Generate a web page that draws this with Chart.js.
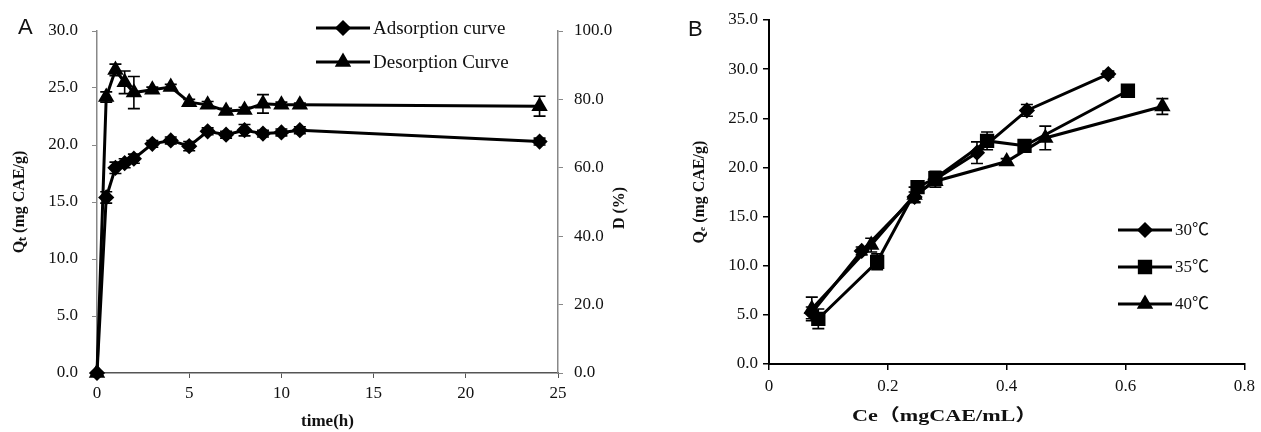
<!DOCTYPE html>
<html>
<head>
<meta charset="utf-8">
<style>
  body { margin: 0; background: #fff; width: 1261px; height: 432px; position: relative; overflow: hidden; }
  .box { position: absolute; top: 0; height: 432px; }
  .lbl { position: absolute; font-family: 'Liberation Sans', Arial, sans-serif; font-size: 22px; color: #111; }
  #ceTitle { position: absolute; left: 852px; top: 401px; font-family: 'Liberation Serif', 'Noto Sans CJK SC', serif; font-weight: bold; font-size: 17px; color: #111; white-space: nowrap; transform: scaleX(1.3); transform-origin: left center; }
</style>
</head>
<body>
<div class="box" style="left:0;width:640px"><canvas id="chartA"></canvas></div>
<div class="box" style="left:640px;width:621px"><canvas id="chartB"></canvas></div>
<div class="lbl" style="left:18px;top:14px">A</div>
<div class="lbl" style="left:688px;top:16px">B</div>
<div id="ceTitle">Ce（mgCAE/mL）</div>
<script src="https://cdn.jsdelivr.net/npm/chart.js@4.4.0/dist/chart.umd.min.js"></script>
<script>
// panel A: adsorption / desorption kinetics
const timeH = [0, 0.5, 1, 1.5, 2, 3, 4, 5, 6, 7, 8, 9, 10, 11, 24];
const adsorptionQt = [0, 15.4, 18.0, 18.4, 18.8, 20.1, 20.4, 19.9, 21.2, 20.9, 21.3, 21.0, 21.1, 21.3, 20.3];
const adsorptionErr = [0, 0.5, 0.5, 0.4, 0.4, 0.3, 0.3, 0.4, 0.3, 0.3, 0.5, 0.3, 0.3, 0.3, 0.3];
const desorptionD = [0, 80.7, 88.6, 85.0, 82.0, 82.8, 83.6, 79.2, 78.4, 76.6, 76.9, 78.7, 78.4, 78.4, 78.0];
const desorptionErr = [0, 1.5, 1.7, 3.3, 4.7, 0.8, 0.8, 0.8, 1.0, 0.8, 0.8, 2.7, 0.8, 0.5, 2.9];

// panel B: isotherms at three temperatures
const ce30 = [0.072, 0.156, 0.245, 0.28, 0.35, 0.434, 0.571];
const qe30 = [5.2, 11.5, 17.0, 18.8, 21.5, 25.8, 29.5];
const err30 = [0.6, 0.4, 0.5, 0.5, 1.1, 0.6, 0.3];
const ce35 = [0.083, 0.182, 0.25, 0.28, 0.367, 0.43, 0.604];
const qe35 = [4.6, 10.4, 18.0, 18.9, 22.7, 22.2, 27.8];
const err35 = [1.0, 0.8, 0.6, 0.7, 0.9, 0.5, 0.3];
const ce40 = [0.072, 0.172, 0.245, 0.28, 0.40, 0.465, 0.662];
const qe40 = [5.6, 12.1, 17.2, 18.6, 20.6, 23.0, 26.2];
const err40 = [1.2, 0.7, 0.8, 0.6, 0.3, 1.2, 0.8];

const pts = (xs, ys) => xs.map((x, i) => ({x: x, y: ys[i]}));
const serif = 'Liberation Serif';

const errorBars = {
  id: 'errorBars',
  afterDatasetsDraw(chart) {
    const ctx = chart.ctx;
    chart.data.datasets.forEach((ds, i) => {
      if (!ds.errors) return;
      const meta = chart.getDatasetMeta(i);
      const xs = chart.scales[meta.xAxisID], ys = chart.scales[meta.yAxisID];
      ctx.save();
      ctx.strokeStyle = '#000';
      ctx.lineWidth = 1.6;
      ds.data.forEach((p, j) => {
        const e = ds.errors[j];
        if (!e) return;
        const x = xs.getPixelForValue(p.x);
        const a = ys.getPixelForValue(p.y - e), b = ys.getPixelForValue(p.y + e);
        ctx.beginPath();
        ctx.moveTo(x, a); ctx.lineTo(x, b);
        ctx.moveTo(x - 6, a); ctx.lineTo(x + 6, a);
        ctx.moveTo(x - 6, b); ctx.lineTo(x + 6, b);
        ctx.stroke();
      });
      ctx.restore();
    });
  }
};

const panelLegend = {
  id: 'panelLegend',
  afterDraw(chart, args, opts) {
    const ctx = chart.ctx;
    ctx.save();
    chart.data.datasets.forEach((ds, i) => {
      const y = opts.y + i * opts.dy;
      ctx.strokeStyle = '#000';
      ctx.lineWidth = 3;
      ctx.beginPath();
      ctx.moveTo(opts.x, y); ctx.lineTo(opts.x + opts.len, y);
      ctx.stroke();
      ctx.fillStyle = '#000';
      Chart.helpers.drawPoint(ctx, {pointStyle: ds.pointStyle, radius: ds.pointRadius, rotation: 0, borderWidth: 1}, opts.x + opts.len / 2, y);
      ctx.fill();
      ctx.font = opts.size + 'px "' + serif + '", "Noto Sans CJK SC"';
      ctx.textBaseline = 'middle';
      ctx.fillStyle = '#111';
      ctx.fillText(ds.label, opts.x + opts.len + 3, y + 1);
    });
    if (opts.sideTitle) {
      const t = opts.sideTitle;
      ctx.translate(t.x, t.y);
      ctx.rotate(-Math.PI / 2);
      ctx.font = 'bold 16px "' + serif + '"';
      ctx.textAlign = 'center';
      ctx.textBaseline = 'middle';
      ctx.fillStyle = '#111';
      ctx.fillText(t.text, 0, 0);
    }
    ctx.restore();
  }
};

function lineSet(label, data, style, r, errors, axis) {
  return {
    label: label, data: data, errors: errors, yAxisID: axis || 'y', clip: false,
    borderColor: '#000', backgroundColor: '#000', borderWidth: 3,
    pointStyle: style, pointRadius: r, pointHoverRadius: r,
    pointBackgroundColor: '#000', pointBorderColor: '#000', tension: 0
  };
}

const tickFont = {family: serif, size: 17};

new Chart(document.getElementById('chartA'), {
  type: 'line',
  data: {
    datasets: [
      lineSet('Adsorption curve', pts(timeH, adsorptionQt), 'rectRot', 6, adsorptionErr, 'y'),
      lineSet('Desorption Curve', pts(timeH, desorptionD), 'triangle', 6.5, desorptionErr, 'y1')
    ]
  },
  options: {
    responsive: true, maintainAspectRatio: false, animation: false,
    layout: {padding: {top: 31, left: 0, right: 0, bottom: 0}},
    plugins: {
      legend: {display: false}, tooltip: {enabled: false},
      panelLegend: {x: 316, y: 28, dy: 34, len: 54, size: 19, sideTitle: {x: 620, y: 208, text: 'D (%)'}}
    },
    scales: {
      x: {
        type: 'linear', min: 0, max: 25,
        ticks: {stepSize: 5, font: tickFont, color: '#111', padding: 5},
        grid: {drawOnChartArea: false, tickLength: 5, color: '#555'},
        border: {color: '#555', width: 1.5},
        title: {display: true, text: 'time(h)', font: {family: serif, size: 17, weight: 'bold'}, color: '#111', padding: {top: 9, bottom: 0}},
        afterFit: s => { s.height = 59; }
      },
      y: {
        position: 'left', min: 0, max: 30,
        ticks: {stepSize: 5, font: tickFont, color: '#111', padding: 14, callback: v => v.toFixed(1)},
        grid: {drawOnChartArea: false, tickLength: 5, color: '#888'},
        border: {color: '#888', width: 1.5},
        title: {display: true, text: 'Qₜ (mg CAE/g)', font: {family: serif, size: 16, weight: 'bold'}, color: '#111', padding: {top: 10, bottom: 0}},
        afterFit: s => { s.width = 97; }
      },
      y1: {
        position: 'right', min: 0, max: 100,
        ticks: {stepSize: 20, font: tickFont, color: '#111', padding: 11, callback: v => v.toFixed(1)},
        grid: {drawOnChartArea: false, tickLength: 5, color: '#888'},
        border: {color: '#888', width: 1.5},
        afterFit: s => { s.width = 82; }
      }
    }
  },
  plugins: [errorBars, panelLegend]
});

new Chart(document.getElementById('chartB'), {
  type: 'line',
  data: {
    datasets: [
      lineSet('30℃', pts(ce30, qe30), 'rectRot', 6, err30),
      lineSet('35℃', pts(ce35, qe35), 'rect', 8, err35),
      lineSet('40℃', pts(ce40, qe40), 'triangle', 6.5, err40)
    ]
  },
  options: {
    responsive: true, maintainAspectRatio: false, animation: false,
    layout: {padding: {top: 20, left: 0, right: 14, bottom: 0}},
    plugins: {
      legend: {display: false}, tooltip: {enabled: false},
      panelLegend: {x: 478, y: 230, dy: 37, len: 54, size: 17}
    },
    scales: {
      x: {
        type: 'linear', min: 0, max: 0.8,
        ticks: {stepSize: 0.2, font: tickFont, color: '#111', padding: 6, callback: v => v === 0 ? '0' : v.toFixed(1)},
        grid: {drawOnChartArea: false, tickLength: 6, color: '#000', lineWidth: 1.5},
        border: {color: '#000', width: 2},
        afterFit: s => { s.height = 68; }
      },
      y: {
        min: 0, max: 35,
        ticks: {stepSize: 5, font: tickFont, color: '#111', padding: 5, callback: v => v.toFixed(1)},
        grid: {drawOnChartArea: false, tickLength: 6, color: '#000', lineWidth: 1.5},
        border: {color: '#000', width: 2},
        title: {display: true, text: 'Qₑ (mg CAE/g)', font: {family: serif, size: 16, weight: 'bold'}, color: '#111', padding: {top: 50, bottom: 0}},
        afterFit: s => { s.width = 129; }
      }
    }
  },
  plugins: [errorBars, panelLegend]
});
</script>
</body>
</html>
